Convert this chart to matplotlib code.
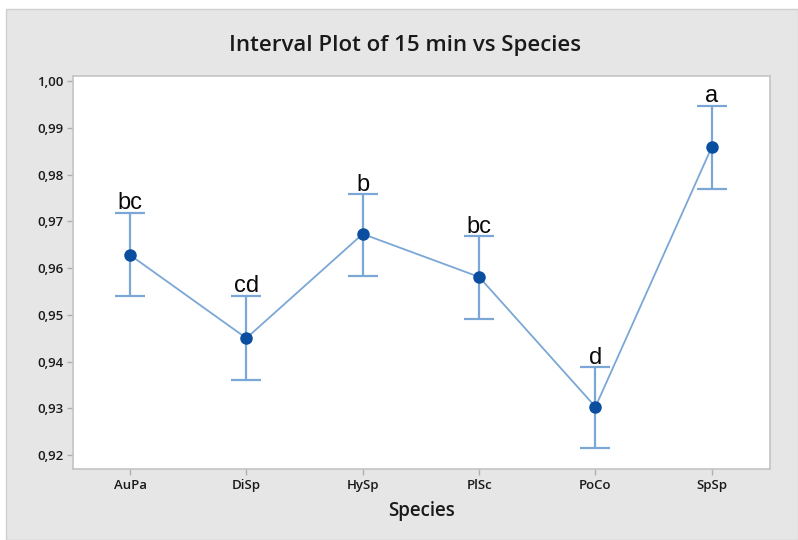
import matplotlib
matplotlib.use('Agg')
import matplotlib.pyplot as plt
from matplotlib.patches import Rectangle
from matplotlib.ticker import FuncFormatter

# 15 min response by species: mean with 95% CI, plus Tukey grouping letters
species = ['AuPa', 'DiSp', 'HySp', 'PlSc', 'PoCo', 'SpSp']
means = [0.9628, 0.9450, 0.9673, 0.9581, 0.9303, 0.9859]
ci_upper = [0.9718, 0.9540, 0.9758, 0.9668, 0.9388, 0.9947]
ci_lower = [0.9540, 0.9360, 0.9582, 0.9491, 0.9215, 0.9769]
groups = ['bc', 'cd', 'b', 'bc', 'd', 'a']
y_ticks = [0.92, 0.93, 0.94, 0.95, 0.96, 0.97, 0.98, 0.99, 1.00]

W, H = 798, 540
LINE = '#7ba7d7'
DOT = '#0a4ea0'
BG = '#e6e6e6'

plt.rcParams['font.family'] = ['Open Sans', 'DejaVu Sans']

fig = plt.figure(figsize=(W / 100, H / 100), dpi=100)
fig.patch.set_facecolor('white')

# grey panel behind the graph
fig.patches.append(Rectangle((6 / W, 0), 1 - 6 / W, 1 - 9 / H,
                             transform=fig.transFigure, facecolor=BG,
                             edgecolor='#cfcfcf', linewidth=1.0, zorder=-10))

ax = fig.add_axes([73 / W, 1 - 469 / H, (770 - 73) / W, (469 - 76) / H])
ax.set_facecolor('white')

x = list(range(1, len(species) + 1))
ax.plot(x, means, color=LINE, linewidth=1.3, zorder=2)
yerr = [[m - lo for m, lo in zip(means, ci_lower)],
        [hi - m for m, hi in zip(means, ci_upper)]]
ax.errorbar(x, means, yerr=yerr, fmt='none', ecolor=LINE, elinewidth=1.6,
            capsize=11, capthick=1.6, zorder=2)
ax.plot(x, means, 'o', color=DOT, markersize=8, zorder=3)

for xi, hi, g in zip(x, ci_upper, groups):
    ax.annotate(g, (xi, hi), xytext=(0, -1), textcoords='offset points',
                ha='center', va='bottom', fontsize=17, color='#0a0a0a',
                family=['Liberation Sans', 'DejaVu Sans'])

ax.set_xlim(0.51, 6.5)
ax.set_ylim(0.9170, 1.0011)
ax.set_xticks(x)
ax.set_xticklabels(species)
ax.set_yticks(y_ticks)
ax.yaxis.set_major_formatter(FuncFormatter(lambda v, p: f'{v:.2f}'.replace('.', ',')))

for side in ['top', 'right', 'left', 'bottom']:
    ax.spines[side].set_color('#c4c4c4')
    ax.spines[side].set_linewidth(1.2)
ax.tick_params(axis='both', length=4, width=1, color='#b0b0b0',
               labelsize=9.5, labelcolor='#1a1a1a', pad=3)
for lbl in ax.get_xticklabels() + ax.get_yticklabels():
    lbl.set_fontweight('semibold')

ax.set_xlabel('Species', fontsize=13.5, fontweight='semibold', color='#1a1a1a', labelpad=7)
fig.text(405 / W, 1 - 45 / H, 'Interval Plot of 15 min vs Species',
         ha='center', va='center', fontsize=16, fontweight='semibold', color='#1a1a1a')

fig.savefig('out.png', dpi=100, facecolor=fig.get_facecolor())
